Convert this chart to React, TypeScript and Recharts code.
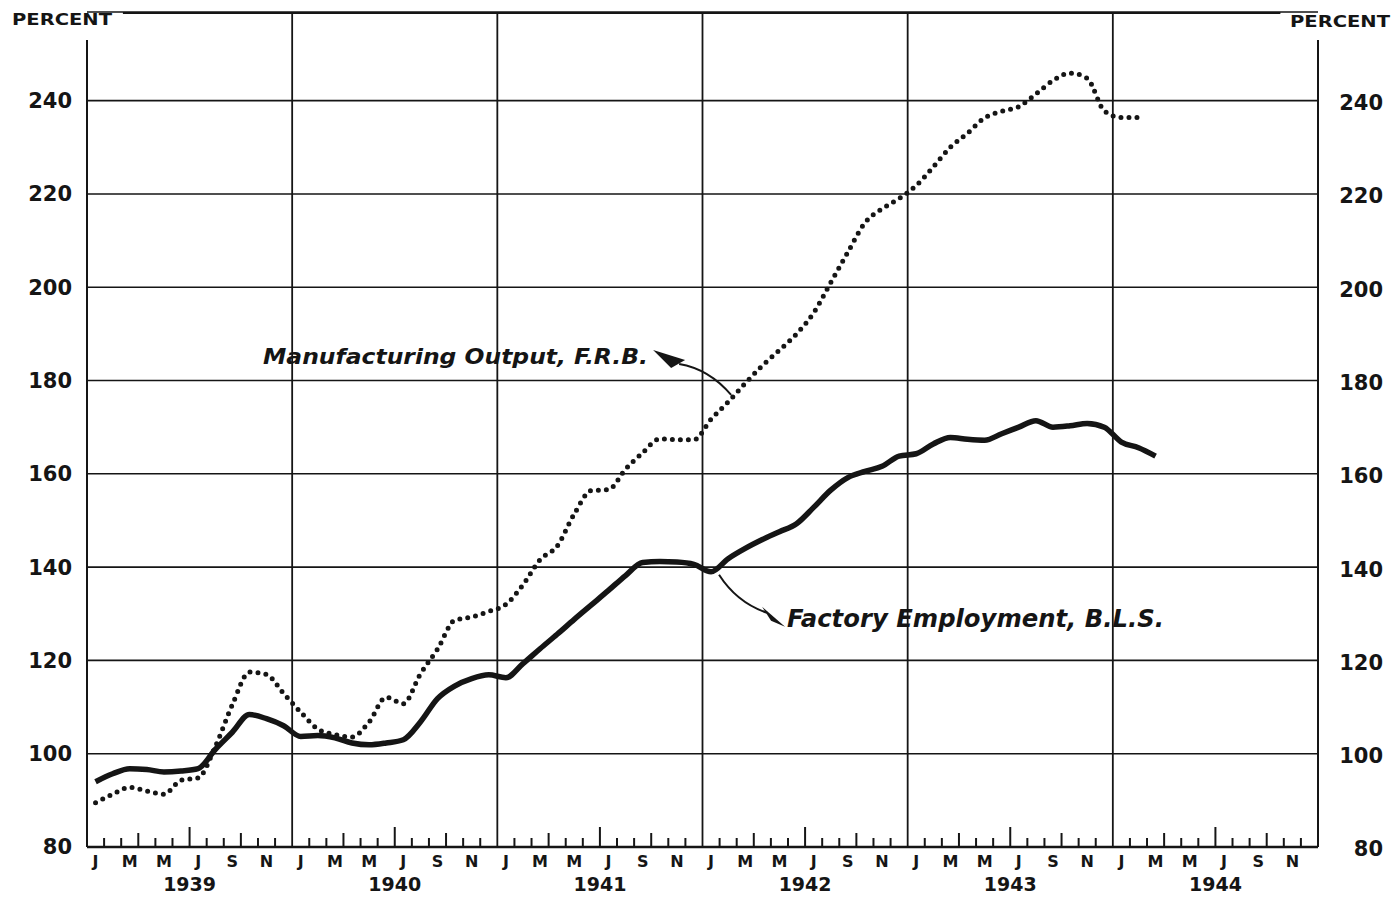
import React from "react";
import { LineChart, Line, XAxis, YAxis, CartesianGrid, ReferenceLine } from "recharts";

// months Jan 1939 .. Dec 1944, index 0 = Jan 1939
const MONTH_LETTERS = ["J", "F", "M", "A", "M", "J", "J", "A", "S", "O", "N", "D"];
const YEARS = ["1939", "1940", "1941", "1942", "1943", "1944"];
const Y_TICKS = [80, 100, 120, 140, 160, 180, 200, 220, 240];

// Factory Employment, B.L.S. (Jan 1939 - Mar 1944)
const employment = [
  94.0, 95.7, 96.8, 96.6, 96.1, 96.3, 96.8, 100.9, 104.6, 108.4, 107.5, 106.0,
  103.7, 103.9, 103.4, 102.3, 101.9, 102.3, 103.0, 106.8, 111.8, 114.5, 116.1, 116.9,
  116.3, 119.3, 122.5, 125.6, 128.8, 131.9, 135.0, 138.2, 141.0, 141.2, 141.1, 140.6,
  139.0, 141.8, 144.0, 145.9, 147.6, 149.3, 152.8, 156.5, 159.2, 160.5, 161.6, 163.8,
  164.3, 166.4, 167.8, 167.4, 167.2, 168.6, 170.0, 171.4, 170.0, 170.3, 170.8, 170.0,
  166.8, 165.6, 163.8,
];

// Manufacturing Output, F.R.B. (Jan 1939 - Feb 1944)
const output = [
  89.5, 91.3, 92.8, 92.0, 91.3, 94.3, 94.8, 101.5, 110.5, 117.5, 117.0, 112.9,
  108.9, 105.3, 104.1, 103.6, 106.8, 112.1, 110.7, 117.1, 122.4, 128.6, 129.3, 130.5,
  132.0, 136.2, 141.6, 144.5, 151.4, 156.4, 156.6, 161.0, 164.5, 167.5, 167.3, 167.3,
  171.7, 175.4, 179.4, 183.2, 186.5, 190.0, 194.5, 201.0, 207.5, 213.8, 216.8, 219.0,
  221.8, 225.8, 230.0, 233.0, 236.3, 237.7, 238.7, 241.4, 244.3, 245.9, 244.8, 237.8,
  236.4, 236.4,
];

const data = employment.map((e, i) => ({
  m: i + 0.5,
  employment: e,
  output: i < output.length ? output[i] : null,
}));

const W = 1393;
const H = 898;
const LEFT = 87;
const RIGHT_W = 75;
const TOP = 12;
const XAXIS_H = 51;
const Y_MIN = 80;
const Y_MAX = 259;
const INK = "#151515";
const FONT = "'DejaVu Sans', sans-serif";

const plotW = W - LEFT - RIGHT_W;
const plotBottom = H - XAXIS_H;
const plotH = plotBottom - TOP;
const px = (m: number) => LEFT + (m / 72) * plotW;
const py = (v: number) => plotBottom - ((v - Y_MIN) / (Y_MAX - Y_MIN)) * plotH;

const xTicks: number[] = [];
for (let k = 0; k < 72; k++) {
  if (k > 0 && k % 12 !== 0) xTicks.push(k);
  xTicks.push(k + 0.5);
}

function MonthTick(props: any) {
  const { x, y, payload } = props;
  const v = payload.value;
  if (Number.isInteger(v)) {
    const k = v % 12;
    const h = k === 6 ? 20 : k === 3 || k === 9 ? 14 : 9;
    return (
      <g>
        <line x1={x} x2={x} y1={y} y2={y - h} stroke={INK} strokeWidth={2} />
        {k === 6 && (
          <text x={x} y={y + 44} textAnchor="middle" fontFamily={FONT} fontWeight={700} fontSize={19} fill={INK}>
            {YEARS[(v - 6) / 12]}
          </text>
        )}
      </g>
    );
  }
  const i = Math.floor(v);
  if (i % 2 !== 0) return <g />;
  return (
    <text x={x} y={y + 20} textAnchor="middle" fontFamily={FONT} fontWeight={700} fontSize={16} fill={INK}>
      {MONTH_LETTERS[i % 12]}
    </text>
  );
}

function Overlay() {
  // arrows anchored to the series points they point at
  const oI = 37;
  const ox = px(oI + 0.5) + 3;
  const oy = py(output[oI]) - 7;
  const eI = 36;
  const ex = px(eI + 0.5) + 8;
  const ey = py(employment[eI]) + 3;
  return (
    <svg width={W} height={H} style={{ position: "absolute", left: 0, top: 0, pointerEvents: "none" }}>
      <text x={12} y={25} fontFamily={FONT} fontWeight={700} fontSize={16} fill={INK} textLength={100} lengthAdjust="spacingAndGlyphs">
        PERCENT
      </text>
      <text x={1290} y={27} fontFamily={FONT} fontWeight={700} fontSize={16} fill={INK} textLength={100} lengthAdjust="spacingAndGlyphs">
        PERCENT
      </text>

      {/* right-hand scale */}
      {Y_TICKS.map((t) => (
        <text key={t} x={W - 10} y={py(t) + 2} dy="0.355em" textAnchor="end" fontFamily={FONT} fontWeight={700} fontSize={21} fill={INK}>
          {t}
        </text>
      ))}

      <text x={263} y={364} fontFamily={FONT} fontWeight={700} fontStyle="italic" fontSize={21} fill={INK} textLength={385} lengthAdjust="spacingAndGlyphs">
        Manufacturing Output, F.R.B.
      </text>
      <path d={`M ${ox} ${oy} Q ${ox - 22} ${oy - 26} ${ox - 52} ${oy - 31}`} fill="none" stroke={INK} strokeWidth={2} />
      <polygon points={`${ox - 78},${oy - 45} ${ox - 46},${oy - 35} ${ox - 60},${oy - 27}`} fill={INK} />

      <text x={787} y={627} fontFamily={FONT} fontWeight={700} fontStyle="italic" fontSize={24} fill={INK} textLength={377} lengthAdjust="spacingAndGlyphs">
        Factory  Employment, B.L.S.
      </text>
      <path d={`M ${ex} ${ey} Q ${ex + 18} ${ey + 28} ${ex + 48} ${ey + 38}`} fill="none" stroke={INK} strokeWidth={2} />
      <polygon points={`${ex + 66},${ey + 52} ${ex + 43},${ey + 32} ${ex + 52},${ey + 46}`} fill={INK} />
    </svg>
  );
}

export default function App() {
  return (
    <div style={{ position: "absolute", left: 0, top: 0, width: W, height: H, background: "#fff" }}>
      <LineChart width={W} height={H} data={data} margin={{ top: TOP, right: RIGHT_W, bottom: 0, left: 0 }}>
        <CartesianGrid vertical={false} stroke={INK} strokeWidth={1.6} />
        <XAxis
          dataKey="m"
          type="number"
          domain={[0, 72]}
          ticks={xTicks}
          interval={0}
          height={XAXIS_H}
          tickSize={0}
          tickMargin={0}
          tickLine={false}
          axisLine={{ stroke: INK, strokeWidth: 2.5 }}
          tick={<MonthTick />}
        />
        <YAxis
          domain={[Y_MIN, Y_MAX]}
          ticks={Y_TICKS}
          interval={0}
          width={LEFT}
          tickSize={0}
          tickMargin={15}
          axisLine={false}
          tickLine={false}
          tick={{ fill: INK, fontSize: 21, fontWeight: 700, fontFamily: FONT }}
        />
        {[12, 24, 36, 48, 60].map((x) => (
          <ReferenceLine key={x} x={x} stroke={INK} strokeWidth={1.8} />
        ))}
        <ReferenceLine segment={[{ x: 0, y: Y_MIN }, { x: 0, y: 253 }]} stroke={INK} strokeWidth={2} />
        <ReferenceLine segment={[{ x: 72, y: Y_MIN }, { x: 72, y: 253 }]} stroke={INK} strokeWidth={2} />
        <ReferenceLine segment={[{ x: 2.1, y: 258.8 }, { x: 69.8, y: 258.8 }]} stroke={INK} strokeWidth={2} />
        <Line
          dataKey="output"
          type="monotone"
          stroke={INK}
          strokeWidth={5}
          strokeDasharray="0 8"
          strokeLinecap="round"
          dot={false}
          isAnimationActive={false}
        />
        <Line
          dataKey="employment"
          type="monotone"
          stroke={INK}
          strokeWidth={5.5}
          strokeLinejoin="round"
          dot={false}
          isAnimationActive={false}
        />
      </LineChart>
      <Overlay />
    </div>
  );
}
